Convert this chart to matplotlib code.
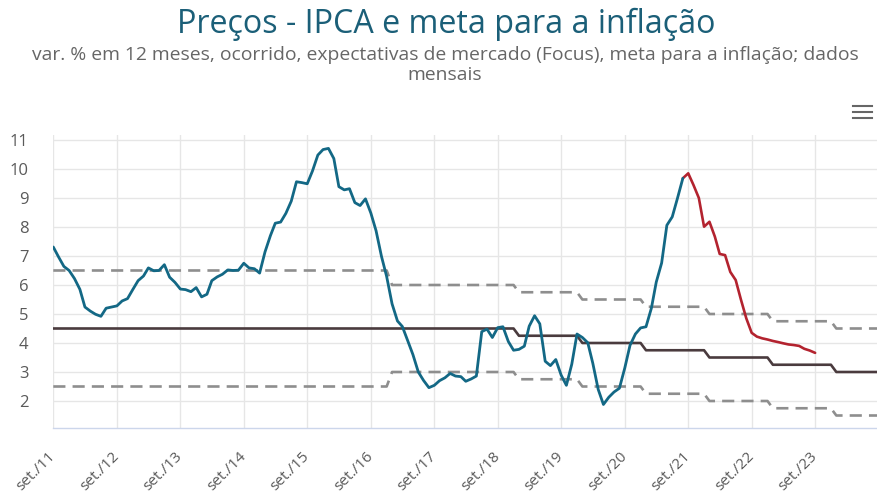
import matplotlib
matplotlib.use('Agg')
import matplotlib.pyplot as plt
import pandas as pd
from matplotlib.lines import Line2D

# ---------------- data ----------------
# IPCA, var. % 12 meses (ocorrido), set/2011 - ago/2021
ipca_start = '2011-09-01'
ipca = [7.31, 6.97, 6.64, 6.50,
        6.22, 5.85, 5.24, 5.10, 4.99, 4.92, 5.20, 5.24, 5.28, 5.45, 5.53, 5.84,
        6.15, 6.31, 6.59, 6.49, 6.50, 6.70, 6.27, 6.09, 5.86, 5.84, 5.77, 5.91,
        5.59, 5.68, 6.15, 6.28, 6.37, 6.52, 6.50, 6.51, 6.75, 6.59, 6.56, 6.41,
        7.14, 7.70, 8.13, 8.17, 8.47, 8.89, 9.56, 9.53, 9.49, 9.93, 10.48, 10.67,
        10.71, 10.36, 9.39, 9.28, 9.32, 8.84, 8.74, 8.97, 8.48, 7.87, 6.99, 6.29,
        5.35, 4.76, 4.57, 4.08, 3.60, 3.00, 2.71, 2.46, 2.54, 2.70, 2.80, 2.95,
        2.86, 2.84, 2.68, 2.76, 2.86, 4.39, 4.48, 4.19, 4.53, 4.56, 4.05, 3.75,
        3.78, 3.89, 4.58, 4.94, 4.66, 3.37, 3.22, 3.43, 2.89, 2.54, 3.27, 4.31,
        4.19, 4.01, 3.30, 2.40, 1.88, 2.13, 2.31, 2.44, 3.14, 3.92, 4.31, 4.52,
        4.56, 5.20, 6.10, 6.76, 8.06, 8.35, 8.99, 9.68]

# Expectativas de mercado (Focus), ago/2021 - set/2023
focus_start = '2021-08-01'
focus = [9.68, 9.85, 9.45, 9.00, 8.01, 8.18, 7.67, 7.07, 7.03, 6.45, 6.17, 5.50,
         4.85, 4.35, 4.22, 4.16, 4.12, 4.07, 4.03, 3.99, 3.95, 3.93, 3.90, 3.80,
         3.74, 3.66]

# Meta para a inflação (centro) e intervalo de tolerância, por ano
meta_years = [2011, 2012, 2013, 2014, 2015, 2016, 2017, 2018, 2019, 2020, 2021, 2022, 2023, 2024]
meta_center = [4.5, 4.5, 4.5, 4.5, 4.5, 4.5, 4.5, 4.5, 4.25, 4.0, 3.75, 3.5, 3.25, 3.0]
meta_upper = [6.5, 6.5, 6.5, 6.5, 6.5, 6.5, 6.0, 6.0, 5.75, 5.5, 5.25, 5.0, 4.75, 4.5]
meta_lower = [2.5, 2.5, 2.5, 2.5, 2.5, 2.5, 3.0, 3.0, 2.75, 2.5, 2.25, 2.0, 1.75, 1.5]

tick_labels = ['set./11', 'set./12', 'set./13', 'set./14', 'set./15', 'set./16', 'set./17',
               'set./18', 'set./19', 'set./20', 'set./21', 'set./22', 'set./23']

title = 'Preços - IPCA e meta para a inflação'
subtitle = ('var. % em 12 meses, ocorrido, expectativas de mercado (Focus), meta para a inflação; dados\n'
            'mensais')

# ---------------- build series ----------------
ipca_dates = pd.date_range(ipca_start, periods=len(ipca), freq='MS')
focus_dates = pd.date_range(focus_start, periods=len(focus), freq='MS')
meta_dates = pd.date_range('2011-09-01', '2024-12-01', freq='MS')
meta_df = pd.DataFrame({'center': meta_center, 'upper': meta_upper, 'lower': meta_lower},
                       index=meta_years)
meta_m = meta_df.loc[meta_dates.year].set_index(meta_dates)

tick_dates = pd.date_range('2011-09-01', periods=len(tick_labels), freq='12MS')

# ---------------- figure ----------------
plt.rcParams['font.family'] = ['Open Sans', 'DejaVu Sans']
fig = plt.figure(figsize=(8.77, 4.98), dpi=100)
ax = fig.add_axes([53.3 / 877, 1 - 428 / 498, 1 - 53.3 / 877, (428 - 135) / 498])

blue = '#136885'
red = '#b3232f'
dark = '#4a3b3e'
grey = '#8e8e8e'

dash = (0, (4.6, 2.7))
ax.plot(meta_m.index, meta_m['upper'], color=grey, lw=1.9, linestyle=dash,
        solid_joinstyle='round', zorder=3)
ax.plot(meta_m.index, meta_m['lower'], color=grey, lw=1.9, linestyle=dash,
        solid_joinstyle='round', zorder=3)
ax.plot(meta_m.index, meta_m['center'], color=dark, lw=1.9, zorder=4,
        solid_joinstyle='round')
ax.plot(focus_dates, focus, color=red, lw=1.9, zorder=5, solid_joinstyle='round',
        solid_capstyle='round')
ax.plot(ipca_dates, ipca, color=blue, lw=2.0, zorder=6, solid_joinstyle='round',
        solid_capstyle='round')

ax.set_ylim(1.069, 11.172)
ax.set_xlim(pd.Timestamp('2011-09-01'), pd.Timestamp('2024-08-22'))
ax.set_yticks(range(2, 12))
ax.set_xticks(tick_dates)
ax.set_xticklabels(tick_labels, rotation=45, ha='right', va='center',
                   rotation_mode='anchor')
ax.tick_params(axis='x', length=0, pad=19, labelsize=11, labelcolor='#5a5a5a')
ax.tick_params(axis='y', length=0, pad=18, labelsize=12, labelcolor='#5a5a5a')

ax.grid(True, color='#e6e6e6', lw=1)
ax.set_axisbelow(True)
for s in ['top', 'right', 'left']:
    ax.spines[s].set_visible(False)
ax.spines['bottom'].set_color('#ccd6eb')
ax.spines['bottom'].set_linewidth(1)

fig.text(446 / 877, 1 - 24 / 498, title, ha='center', va='center',
         fontsize=23.2, color='#1b5f78')
fig.text(445 / 877, 1 - 65 / 498, subtitle, ha='center', va='center',
         fontsize=13.9, color='#666666', linespacing=1.15)

# menu icon
for yy in (106, 112, 118):
    fig.add_artist(Line2D([853 / 877, 872 / 877], [1 - yy / 498, 1 - yy / 498],
                          transform=fig.transFigure, color='#666666', lw=1.5))

fig.savefig('out.png', dpi=100)
